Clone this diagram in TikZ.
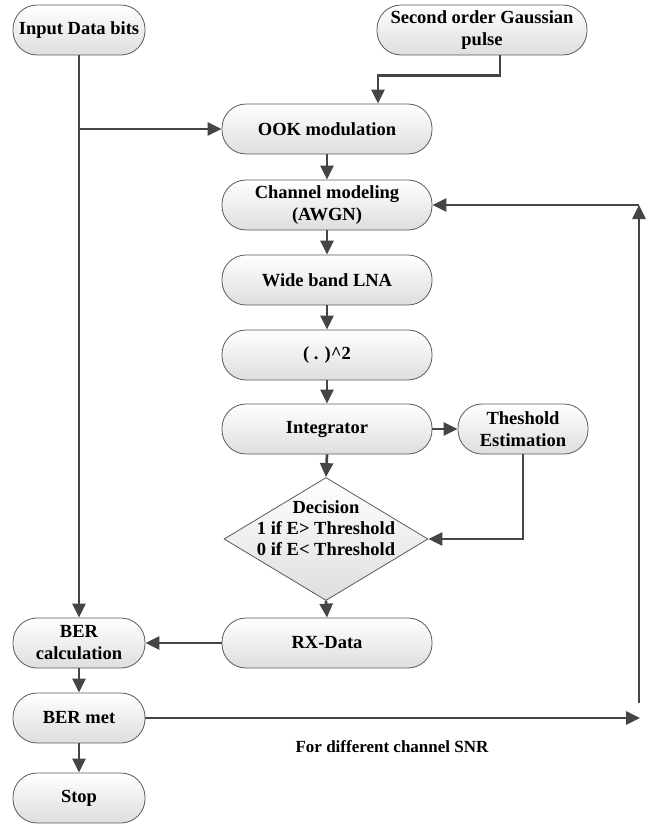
\documentclass[tikz,border=0pt]{standalone}
\usepackage{fontspec}
\setmainfont{Liberation Serif}
\usetikzlibrary{shapes.geometric,arrows.meta,calc}
\definecolor{linec}{HTML}{454545}
\definecolor{boxb}{HTML}{5A5A5A}
\tikzset{
  pill/.style={rectangle, rounded corners=24pt, draw=boxb, line width=0.8pt,
    top color=white, bottom color=black!13, minimum height=50pt,
    align=center, font=\fontsize{18.5}{22}\selectfont\bfseries, inner sep=2pt},
  arr/.style={draw=linec, line width=2.7pt, -{Triangle[length=14pt,width=13pt]}},
}
\begin{document}
\begin{tikzpicture}[x=1pt,y=-1pt]
\useasboundingbox (0,0) rectangle (650,825);
% nodes
\node[pill, minimum width=132pt] (inp) at (79,30) {Input Data bits};
\node[pill, minimum width=210pt] (gauss) at (482,30) {Second order Gaussian\\pulse};
\node[pill, minimum width=210pt] (ook) at (327,129) {OOK modulation};
\node[pill, minimum width=210pt] (chan) at (327,205) {Channel modeling\\(AWGN)};
\node[pill, minimum width=210pt] (lna) at (327,280) {Wide band LNA};
\node[pill, minimum width=210pt] (sq) at (327,355) {( . )\^{}2};
\node[pill, minimum width=210pt] (integ) at (327,429) {Integrator};
\node[pill, minimum width=130pt] (thr) at (523,429) {Theshold\\Estimation};
\node[diamond, draw=boxb, line width=0.8pt, top color=white, bottom color=black!13,
      minimum width=204pt, minimum height=123pt, inner sep=0pt] (dec) at (326,539) {};
\node[align=center, font=\fontsize{18.5}{21}\selectfont\bfseries] (dect) at (326,528)
      {Decision\\1 if E> Threshold\\0 if E< Threshold};
\node[pill, minimum width=210pt] (rx) at (327,643) {RX-Data};
\node[pill, minimum width=132pt] (berc) at (79,643) {BER\\calculation};
\node[pill, minimum width=132pt] (berm) at (79,718) {BER met};
\node[pill, minimum width=132pt] (stop) at (79,798) {Stop};
\node[font=\fontsize{17}{19}\selectfont\bfseries] (lbl) at (392,747) {For different channel SNR};
% helper coordinates
\coordinate (ookin) at ($(ook.north)+(51,0)$);
\coordinate (gbend) at ($(gauss.south)+(0,20)$);
\coordinate (gout) at ($(gauss.south)+(18,0)$);
\coordinate (branch) at (inp.south |- ook.west);
\coordinate (fr1) at (640,718);
\coordinate (fr2) at (639,703);
\coordinate (fr3) at (639,205);
% connectors
\draw[arr] (inp.south) -- (berc.north);
\draw[arr] (branch) -- (ook.west);
\draw[arr] (gout) -- (gout |- gbend) -| (ookin);
\draw[arr] (ook) -- (chan);
\draw[arr] (chan) -- (lna);
\draw[arr] (lna) -- (sq);
\draw[arr] (sq) -- (integ);
\draw[arr] (integ.south) -- (dec.north);
\draw[arr] (dec.south) -- (rx.north);
\draw[arr] (integ.east) -- (thr.west);
\draw[arr] (thr.south) |- (dec.east);
\draw[arr] (rx.west) -- (berc.east);
\draw[arr] (berc) -- (berm);
\draw[arr] (berm) -- (stop);
\draw[arr] (berm.east) -- (fr1);
\draw[arr] (fr2) -- (fr3);
\draw[arr] (fr3) -- (chan.east |- fr3);
\end{tikzpicture}
\end{document}
